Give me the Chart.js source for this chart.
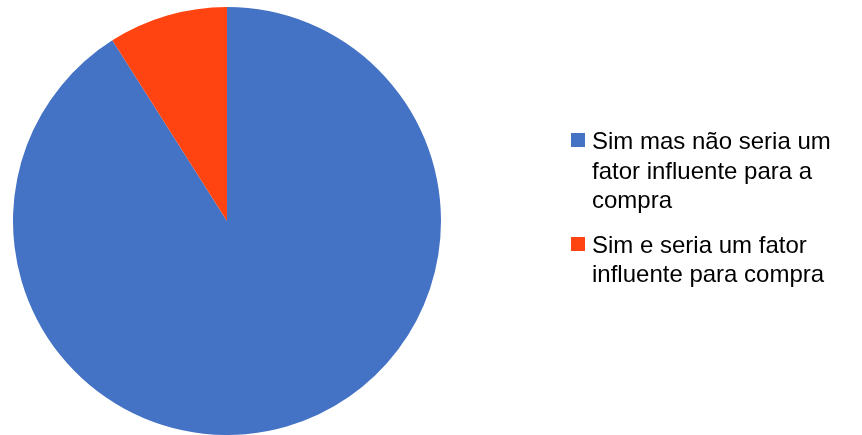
<!DOCTYPE html>
<html lang="pt">
<head>
<meta charset="UTF-8">
<title>Pie</title>
<script src="https://cdn.jsdelivr.net/npm/chart.js"></script>
<style>
    body { margin: 0; background: #fff; }
    #wrap { position: relative; width: 862px; height: 435px; }
    #legend {
        position: absolute; left: 571px; top: 126px; width: 291px;
        font-family: "Liberation Sans", Arial, sans-serif; font-size: 24px;
        line-height: 29.5px; color: #000;
    }
    .item { display: flex; align-items: flex-start; margin-bottom: 15px; }
    .box { width: 14px; height: 14px; flex: none; margin-top: 7px; margin-right: 7px; }
</style>
</head>
<body>
<div id="wrap">
    <canvas id="pieChart" width="862" height="435"></canvas>
    <div id="legend"></div>
</div>
<script>
    var labels = ['Sim mas não seria um fator influente para a compra', 'Sim e seria um fator influente para compra'];
    var values = [91, 9];
    var colors = ['#4472C4', '#FF4412'];

    // legend built as html so the long labels can wrap
    var legend = document.getElementById('legend');
    labels.forEach(function (text, i) {
        var item = document.createElement('div');
        item.className = 'item';
        item.innerHTML = '<span class="box" style="background:' + colors[i] + '"></span><span>' + text + '</span>';
        legend.appendChild(item);
    });

    var pieChart = new Chart(document.getElementById('pieChart'), {
        type: 'pie',
        data: {
            labels: labels,
            datasets: [{
                data: values,
                backgroundColor: colors,
                borderWidth: 0
            }]
        },
        options: {
            responsive: false,
            animation: false,
            layout: { padding: { left: 13, right: 421, top: 7, bottom: 0 } },
            plugins: {
                legend: { display: false },
                tooltip: { enabled: false }
            }
        }
    });
</script>
</body>
</html>
